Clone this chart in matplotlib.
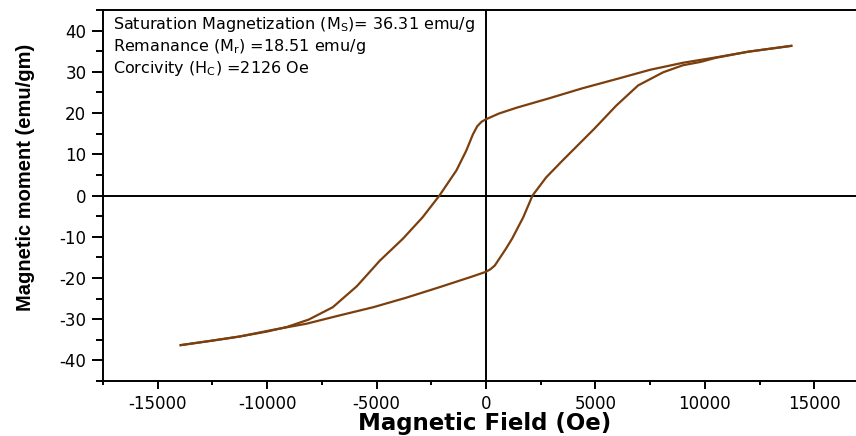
import matplotlib
matplotlib.use("Agg")
import matplotlib.pyplot as plt
from matplotlib.ticker import MultipleLocator

# descending branch (from +H to -H)
h_down = [13950, 12000, 10500, 9000, 7500, 6000, 4400, 2900, 1400, 600, 0,
          -200, -400, -600, -900, -1350, -2126, -2900, -3800, -4850, -5900, -7000,
          -8100, -9100, -10000, -11250, -12500, -13950]
m_down = [36.3, 34.9, 33.5, 32.2, 30.5, 28.3, 26.0, 23.6, 21.3, 19.9, 18.5,
          17.9, 16.8, 14.8, 10.9, 6.1, 0.0, -5.3, -10.5, -15.8, -22.0, -27.1,
          -30.1, -31.9, -33.0, -34.2, -35.2, -36.3]

# ascending branch (from -H to +H)
h_up = [-13950, -12500, -11250, -9750, -8200, -6700, -5150, -3650, -2100, -600, 0,
        200, 400, 600, 900, 1200, 1700, 2126, 2750, 3500, 4950, 5950, 6950, 8100, 9000,
        9800, 10500, 12000, 13950]
m_up = [-36.3, -35.2, -34.2, -32.6, -31.1, -29.1, -27.1, -24.8, -22.2, -19.6, -18.5,
        -17.9, -17.0, -15.4, -13.0, -10.4, -5.3, 0.0, 4.4, 8.5, 16.2, 21.8, 26.7, 29.9, 31.6,
        32.4, 33.4, 34.9, 36.3]

notes = [r"Saturation Magnetization (M$_\mathregular{S}$)= 36.31 emu/g",
         r"Remanance (M$_\mathregular{r}$) =18.51 emu/g",
         r"Corcivity (H$_\mathregular{C}$) =2126 Oe"]

plt.rcParams['axes.unicode_minus'] = False
plt.rcParams['font.family'] = 'DejaVu Sans'

W, H = 856, 436
fig = plt.figure(figsize=(W / 100, H / 100), dpi=100)
ax = fig.add_axes([103 / W, (H - 381) / H, 766 / W, 371 / H])

ax.axhline(0, color='black', lw=1.4, zorder=1)
ax.axvline(0, color='black', lw=1.4, zorder=1)
brown = '#7B3F0E'
ax.plot(h_down, m_down, color=brown, lw=1.6, zorder=2)
ax.plot(h_up, m_up, color=brown, lw=1.6, zorder=2)

ax.set_xlim(-17500, 17500)
ax.set_ylim(-45, 45)
ax.xaxis.set_major_locator(MultipleLocator(5000))
ax.xaxis.set_minor_locator(MultipleLocator(2500))
ax.yaxis.set_major_locator(MultipleLocator(10))
ax.yaxis.set_minor_locator(MultipleLocator(5))
ax.tick_params(which='major', direction='out', length=6, width=1.4, labelsize=12, pad=4)
ax.tick_params(which='minor', direction='out', length=3, width=1.4)
ax.tick_params(axis='y', which='major', length=8)
ax.tick_params(axis='y', which='minor', length=5)
for s in ax.spines.values():
    s.set_linewidth(1.4)

ax.set_xlabel("Magnetic Field (Oe)", fontsize=16.5, fontweight='bold')
ax.xaxis.set_label_coords(0.4987, -0.083)
ax.set_ylabel("Magnetic moment (emu/gm)", fontsize=14.5, fontweight='bold',
              family='Liberation Sans')
ax.yaxis.set_label_coords(-0.089, 0.55)

for i, t in enumerate(notes):
    fig.text(113 / W, 1 - (29 + 22.2 * i) / H, t, fontsize=11.5, va='baseline')

fig.savefig("out.png", dpi=100)
